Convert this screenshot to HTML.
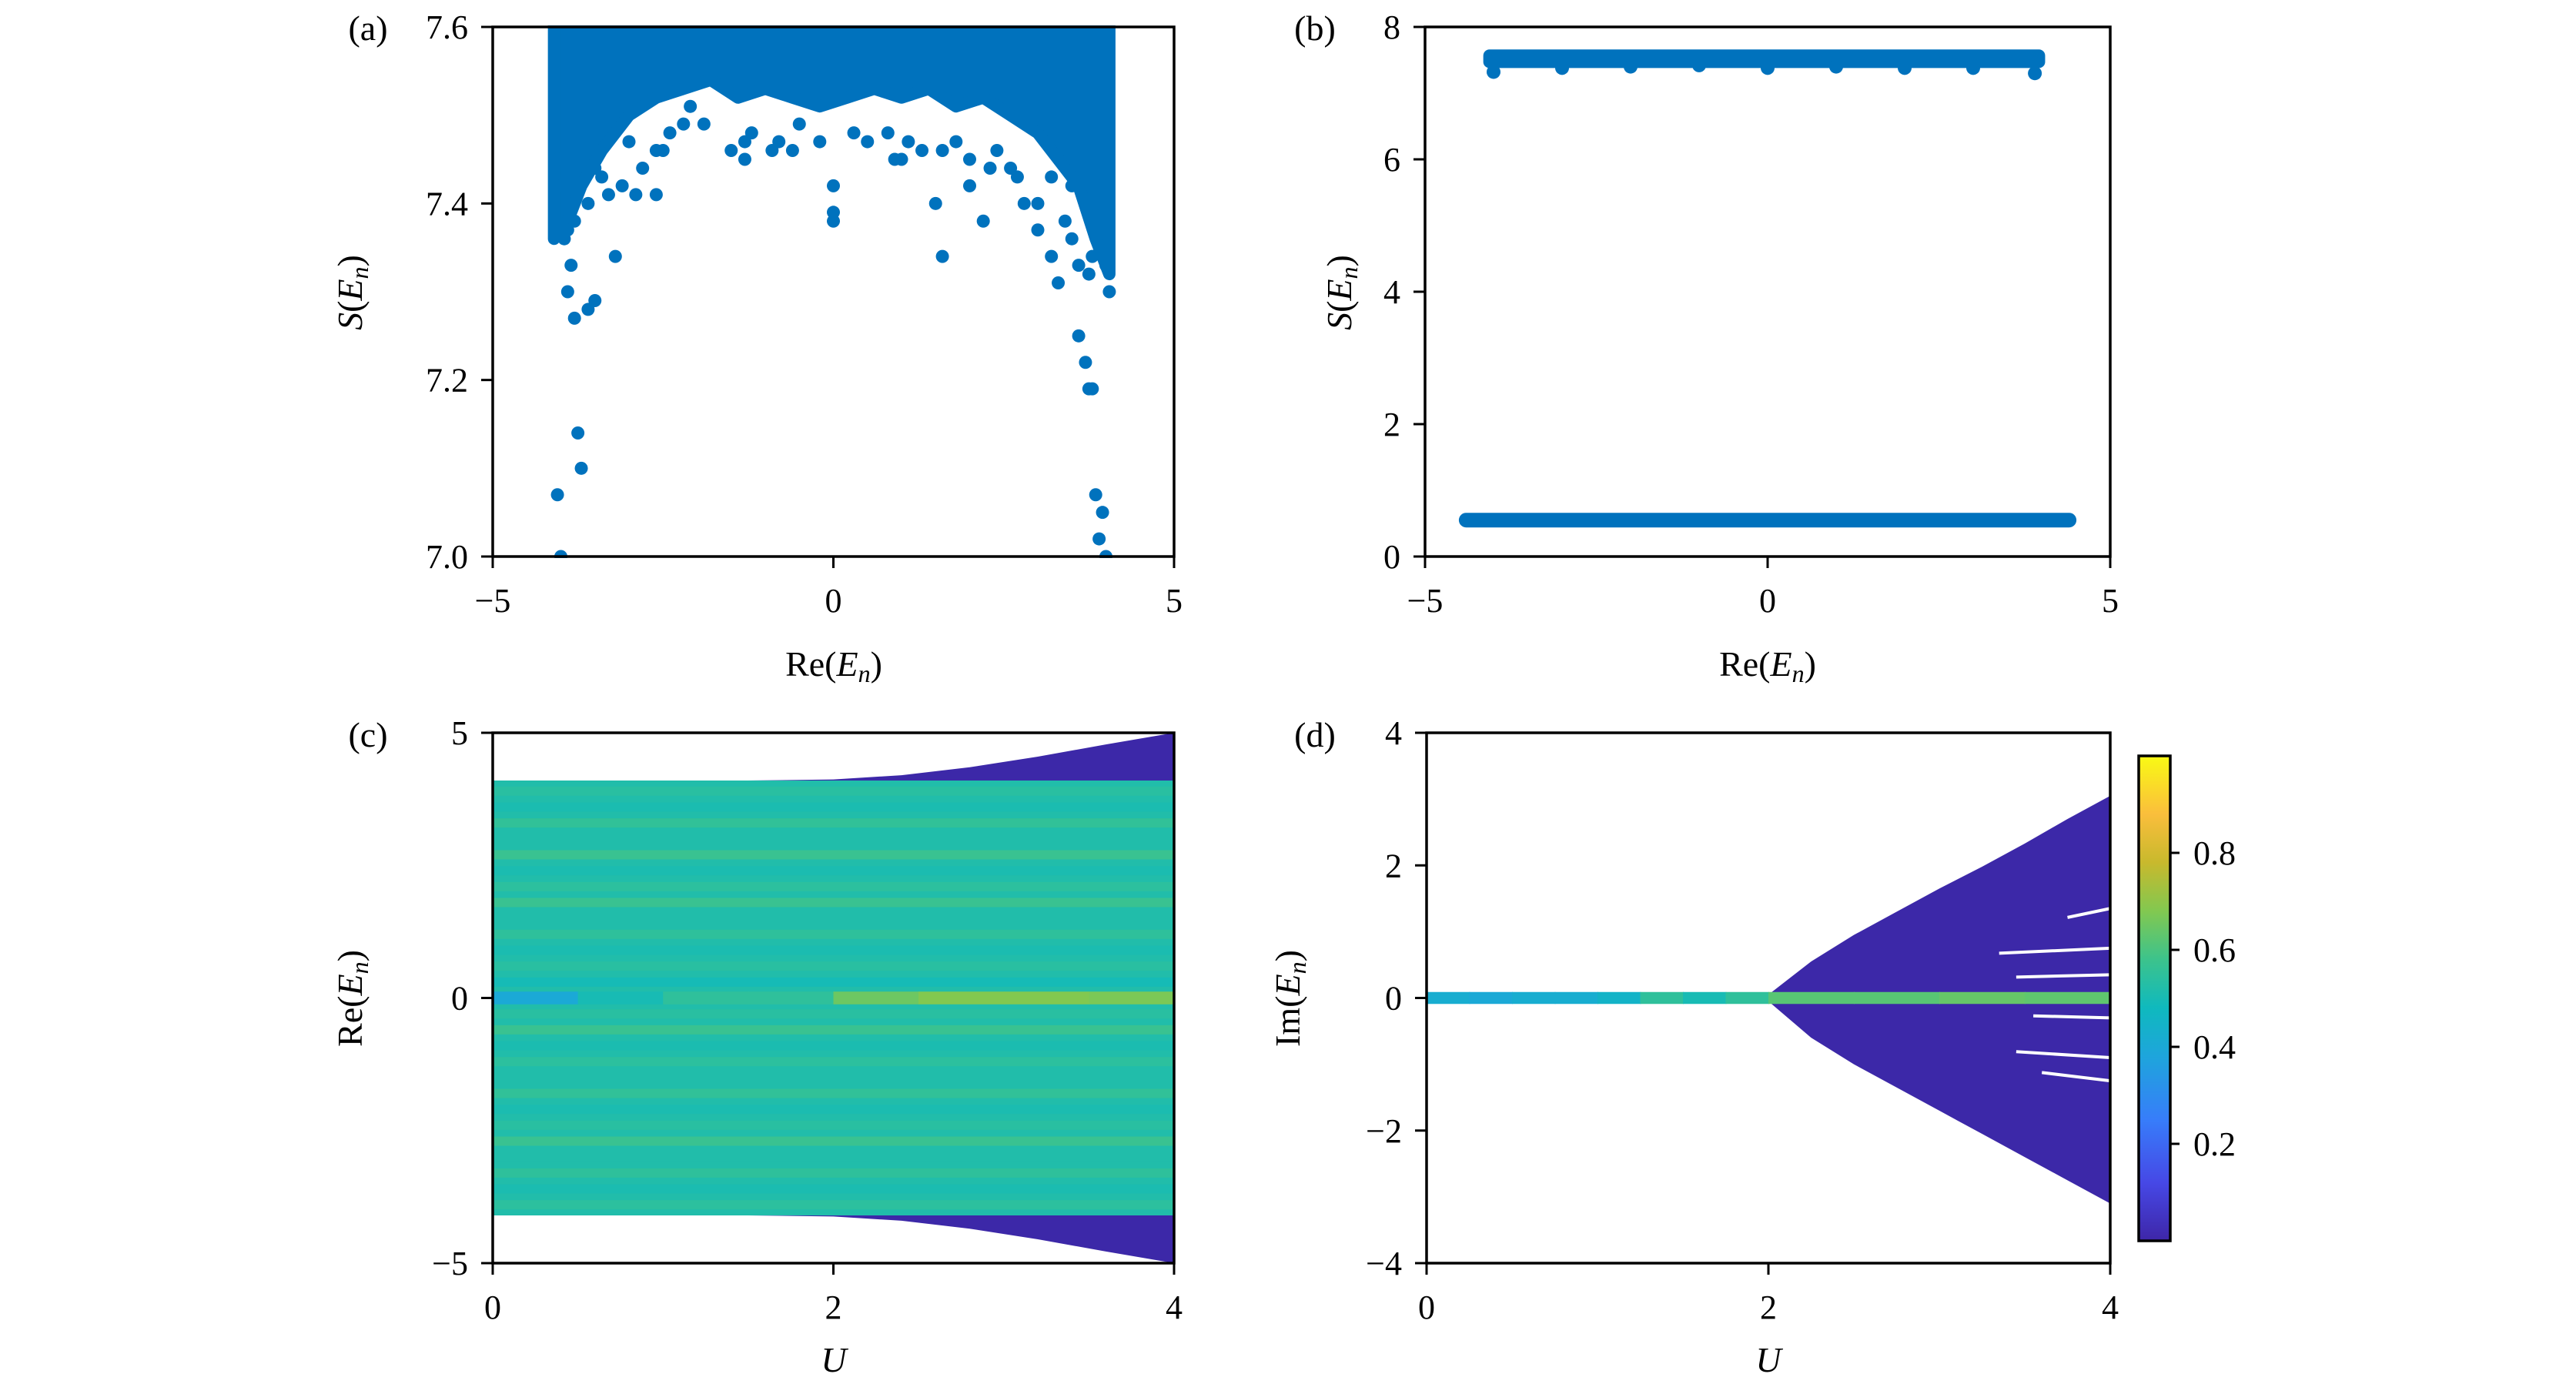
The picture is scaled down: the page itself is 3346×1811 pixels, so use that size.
<!DOCTYPE html>
<html><head><meta charset="utf-8">
<style>
html,body{margin:0;padding:0;background:#fff;}
svg{display:block;}
text{font-family:"Liberation Serif","DejaVu Serif",serif;fill:#000;}
</style></head>
<body>
<svg id="fig" width="3346" height="1811" viewBox="0 0 3346 1811" xmlns="http://www.w3.org/2000/svg"></svg>
<script>
// ---------- Panel (a) data ----------
const aBandX = [-4.1,-3.9,-3.7,-3.4,-3.0,-2.6,-2.2,-1.8,-1.4,-1.0,-0.6,-0.2,0.2,0.6,1.0,1.4,1.8,2.2,2.6,3.0,3.3,3.6,3.85,4.05];
const aBandLow = [7.36,7.38,7.42,7.46,7.50,7.52,7.53,7.54,7.52,7.53,7.52,7.51,7.52,7.53,7.52,7.53,7.51,7.52,7.50,7.48,7.45,7.42,7.36,7.32];
const aOutX = [-4.05,-4.0,-3.95,-3.9,-3.85,-3.8,-3.75,-3.7,-3.6,-3.5,-3.4,-3.2,-3.1,-2.8,-2.5,-2.1,-1.5,-1.2,-0.9,-0.5,0.0,0.0,0.3,0.9,1.3,1.5,1.6,2.0,2.2,2.8,3.0,3.2,3.3,3.5,3.6,3.7,3.75,3.8,3.85,3.9,3.95,4.0,4.05,-4.05,3.75,3.8,
 -3.0,-2.6,-2.6,-2.2,-1.3,-1.3,-0.8,-0.6,-0.2,0.0,0.5,1.0,1.1,1.6,2.0,2.3,2.4,2.7,3.0,-3.5,-3.3,-2.9,-3.6,-3.8,3.4,3.6,3.9,4.0,-4.0,-3.9,3.95,4.0,-2.4,-1.9,0.8,1.8,2.6,3.2,3.5];
const aOutY = [7.07,7.0,7.36,7.30,7.33,7.27,7.14,7.10,7.28,7.29,7.43,7.34,7.42,7.44,7.46,7.51,7.46,7.48,7.46,7.49,7.38,7.42,7.48,7.45,7.46,7.40,7.34,7.42,7.38,7.40,7.37,7.34,7.31,7.36,7.25,7.22,7.19,7.19,7.07,7.02,7.05,7.0,7.30,7.45,7.32,7.34,
 7.47,7.41,7.46,7.49,7.47,7.45,7.47,7.46,7.47,7.39,7.47,7.45,7.47,7.46,7.45,7.44,7.46,7.43,7.40,7.44,7.41,7.41,7.40,7.38,7.38,7.33,7.40,7.33,7.42,7.37,7.42,7.38,7.48,7.49,7.48,7.47,7.44,7.43,7.42];
// ---------- Panel (b) data ----------
const bUpperX = [-4.15,4.05];
const bUpperS = [7.38,7.66];
const bLowerX = [-4.4,4.4];
const bLowerS = [0.55];
const bDipX = [-4.0,-3.0,-2.0,-1.0,0.0,1.0,2.0,3.0,3.9];
const bDipS = [7.32,7.38,7.4,7.42,7.38,7.4,7.38,7.38,7.3];
// ---------- Panel (c) data ----------
const cU = [0,0.5,1.0,1.5,2.0,2.4,2.8,3.2,3.6,4.0];
const cUpper = [4.1,4.1,4.1,4.1,4.12,4.2,4.35,4.55,4.78,5.0];
const cLower = [-4.1,-4.1,-4.1,-4.1,-4.12,-4.2,-4.35,-4.55,-4.78,-5.0];
const cStripeRe = [3.9,3.6,3.3,3.0,2.7,2.4,2.1,1.8,1.5,1.2,0.9,0.6,0.3,-0.3,-0.6,-0.9,-1.2,-1.5,-1.8,-2.1,-2.4,-2.7,-3.0,-3.3,-3.6,-3.9];
const cStripeVal = [0.55,0.5,0.58,0.52,0.6,0.5,0.56,0.6,0.52,0.57,0.5,0.55,0.48,0.55,0.6,0.5,0.56,0.52,0.58,0.5,0.55,0.6,0.52,0.57,0.5,0.56];
const cCenterU = [0,0.5,1.0,1.5,2.0,2.5,3.0,3.5,4.0];
const cCenterVal = [0.45,0.4,0.5,0.55,0.55,0.65,0.68,0.68,0.67];
// ---------- Panel (d) data ----------
const dU = [2.0,2.25,2.5,2.75,3.0,3.25,3.5,3.75,4.0];
const dUpper = [0.05,0.55,0.95,1.3,1.65,1.98,2.33,2.7,3.05];
const dLower = [-0.05,-0.6,-1.0,-1.35,-1.7,-2.05,-2.4,-2.75,-3.1];
const dLineU = [0,0.25,0.5,0.75,1.0,1.25,1.5,1.75,2.0,2.5,3.0,3.5,4.0];
const dLineVal = [0.42,0.42,0.4,0.42,0.42,0.45,0.55,0.5,0.55,0.62,0.62,0.64,0.63];
const dGapU0 = [3.75,3.35,3.45,3.55,3.45,3.6];
const dGapIm = [1.35,0.75,0.35,-0.3,-0.9,-1.25];
// ---------- Colorbar ----------
const cbTicks = [0.2,0.4,0.6,0.8];
const ticksA_x=[-5,0,5], ticksA_y=[7.0,7.2,7.4,7.6];
const ticksB_y=[0,2,4,6,8];
const ticksC_x=[0,2,4], ticksC_y=[-5,0,5];
const ticksD_y=[-4,-2,0,2,4];

const NS="http://www.w3.org/2000/svg";
const svg=document.getElementById('fig');
function mk(tag,attrs,parent){const e=document.createElementNS(NS,tag);for(const k in attrs)e.setAttribute(k,attrs[k]);(parent||svg).appendChild(e);return e;}
function lin(d0,d1,r0,r1){return v=>r0+(v-d0)/(d1-d0)*(r1-r0);}
const stops=[[0,[62,38,168]],[0.12,[70,72,230]],[0.25,[55,125,250]],[0.38,[30,165,220]],[0.48,[15,185,190]],[0.58,[60,195,140]],[0.68,[130,200,80]],[0.78,[200,185,45]],[0.88,[250,190,60]],[1,[249,250,20]]];
function cmap(v){v=Math.max(0,Math.min(1,v));for(let i=1;i<stops.length;i++){if(v<=stops[i][0]){const a=stops[i-1],b=stops[i];const t=(v-a[0])/(b[0]-a[0]);return 'rgb('+a[1].map((c,j)=>Math.round(c+(b[1][j]-c)*t)).join(',')+')';}}return 'rgb(249,250,20)';}
const DOT='#0072bd', PURP='#3c28a8';

function axes(name,L,R,T,B,xt,yt,xs,ys,xfmt,yfmt){
  const g=mk('g',{});
  
  
  mk('rect',{x:L,y:T,width:R-L,height:B-T,fill:'none',stroke:'#000','stroke-width':3.5},g);
  xt.forEach(v=>{const x=xs(v);mk('line',{x1:x,x2:x,y1:B,y2:B+15,stroke:'#000','stroke-width':3},g);
    const t=mk('text',{x:x,y:B+72,'font-size':44,'text-anchor':'middle'},g);t.textContent=xfmt(v);
    });
  yt.forEach(v=>{const y=ys(v);mk('line',{x1:L-15,x2:L,y1:y,y2:y,stroke:'#000','stroke-width':3},g);
    const t=mk('text',{x:L-32,y:y+15,'font-size':44,'text-anchor':'end'},g);t.textContent=yfmt(v);
    });
}
function numfmt(v){return v<0?'\u2212'+Math.abs(v):String(v);}
function label(txt,x,y,name,rot){const t=mk('text',{x:x,y:y,'font-size':46,'text-anchor':'middle'});
  if(rot)t.setAttribute('transform','rotate(-90 '+x+' '+y+')');t.innerHTML=txt;
  }
const EN='<tspan font-style="italic">E</tspan><tspan font-style="italic" font-size="32" dy="8">n</tspan><tspan dy="-8">)</tspan>';

// ===== Panel (a) =====
{const L=640,R=1525,T=35,B=723;const xs=lin(-5,5,L,R),ys=lin(7.0,7.6,B,T);
 const cp=mk('clipPath',{id:'clipA'});mk('rect',{x:L,y:T-2,width:R-L,height:B-T+4},cp);
 const g=mk('g',{'clip-path':'url(#clipA)'});
 let d='M'+xs(aBandX[0])+','+ys(7.62);
 aBandX.forEach((x,i)=>{d+=' L'+xs(x)+','+ys(7.62);});
 for(let i=aBandX.length-1;i>=0;i--)d+=' L'+xs(aBandX[i])+','+ys(aBandLow[i]);
 const band=mk('path',{d:d+'Z',fill:DOT,stroke:DOT,'stroke-width':16,'stroke-linejoin':'round'},g);
 
 aOutX.forEach((x,i)=>{const c=mk('circle',{cx:xs(x),cy:ys(aOutY[i]),r:8.5,fill:DOT},g);
   });
 axes('panel-a',L,R,T,B,ticksA_x,ticksA_y,xs,ys,numfmt,v=>v.toFixed(1));
 label('(a)',478,52,'panel-label-a');
 label('<tspan font-style="italic">S</tspan>('+EN,470,380,'y-axis-title-a',true);
 label('Re('+EN,1083,878,'x-axis-title-a');}

// ===== Panel (b) =====
{const L=1851,R=2741,T=35,B=723;const xs=lin(-5,5,L,R),ys=lin(0,8,B,T);
 const up=mk('rect',{x:xs(bUpperX[0]),y:ys(bUpperS[1]),width:xs(bUpperX[1])-xs(bUpperX[0]),height:ys(bUpperS[0])-ys(bUpperS[1]),rx:8,fill:DOT});
 
 bDipX.forEach((x,i)=>{const c=mk('circle',{cx:xs(x),cy:ys(bDipS[i]),r:9,fill:DOT});
   });
 const lo=mk('line',{x1:xs(bLowerX[0]),x2:xs(bLowerX[1]),y1:ys(bLowerS[0]),y2:ys(bLowerS[0]),stroke:DOT,'stroke-width':19,'stroke-linecap':'round'});
 
 axes('panel-b',L,R,T,B,ticksA_x,ticksB_y,xs,ys,numfmt,v=>String(v));
 label('(b)',1708,52,'panel-label-b');
 label('<tspan font-style="italic">S</tspan>('+EN,1755,380,'y-axis-title-b',true);
 label('Re('+EN,2296,878,'x-axis-title-b');}

// ===== Panel (c) =====
{const L=640,R=1525,T=952,B=1641;const xs=lin(0,4,L,R),ys=lin(-5,5,B,T);
 let d='M'+xs(cU[0])+','+ys(cUpper[0]);cU.forEach((u,i)=>d+=' L'+xs(u)+','+ys(cUpper[i]));
 for(let i=cU.length-1;i>=0;i--)d+=' L'+xs(cU[i])+','+ys(cLower[i]);
 const p=mk('path',{d:d+'Z',fill:PURP});
 const r=mk('rect',{x:xs(0),y:ys(4.1),width:xs(4)-xs(0),height:ys(-4.1)-ys(4.1),fill:cmap(0.52)});
 
 cStripeRe.forEach((re,i)=>{const s=mk('rect',{x:xs(0),y:ys(re)-6,width:xs(4)-xs(0),height:12,fill:cmap(cStripeVal[i]),opacity:0.6});
   });
 for(let i=0;i<cCenterU.length-1;i++){const s=mk('rect',{x:xs(cCenterU[i]),y:ys(0.12),width:xs(cCenterU[i+1])-xs(cCenterU[i])+1,height:ys(-0.12)-ys(0.12),fill:cmap(cCenterVal[i+1])});
   }
 axes('panel-c',L,R,T,B,ticksC_x,ticksC_y,xs,ys,numfmt,numfmt);
 label('(c)',478,970,'panel-label-c');
 label('Re('+EN,470,1297,'y-axis-title-c',true);
 label('<tspan font-style="italic">U</tspan>',1083,1782,'x-axis-title-c');}

// ===== Panel (d) =====
{const L=1853,R=2741,T=952,B=1641;const xs=lin(0,4,L,R),ys=lin(-4,4,B,T);
 let d='M'+xs(dU[0])+','+ys(dUpper[0]);dU.forEach((u,i)=>d+=' L'+xs(u)+','+ys(dUpper[i]));
 for(let i=dU.length-1;i>=0;i--)d+=' L'+xs(dU[i])+','+ys(dLower[i]);
 const p=mk('path',{d:d+'Z',fill:PURP});
 dGapU0.forEach((u,i)=>{const l=mk('line',{x1:xs(u),x2:xs(4),y1:ys(dGapIm[i]*0.9),y2:ys(dGapIm[i]),stroke:'#fff','stroke-width':4});
   });
 for(let i=0;i<dLineU.length-1;i++){const s=mk('rect',{x:xs(dLineU[i]),y:ys(0.09),width:xs(dLineU[i+1])-xs(dLineU[i])+1,height:ys(-0.09)-ys(0.09),fill:cmap(dLineVal[i+1])});
   }
 axes('panel-d',L,R,T,B,ticksC_x,ticksD_y,xs,ys,numfmt,numfmt);
 label('(d)',1708,970,'panel-label-d');
 label('Im('+EN,1688,1297,'y-axis-title-d',true);
 label('<tspan font-style="italic">U</tspan>',2297,1782,'x-axis-title-d');}

// ===== Colorbar =====
{const L=2778,R=2819,T=982,B=1612;const ys=lin(0,1,B,T);
 const defs=mk('defs',{});const lg=mk('linearGradient',{id:'parula',x1:0,y1:1,x2:0,y2:0},defs);
 stops.forEach(s=>mk('stop',{offset:s[0],'stop-color':cmap(s[0])},lg));
 const r=mk('rect',{x:L,y:T,width:R-L,height:B-T,fill:'url(#parula)',stroke:'#000','stroke-width':3.5});
 
 cbTicks.forEach(v=>{const y=ys(v);mk('line',{x1:R,x2:R+12,y1:y,y2:y,stroke:'#000','stroke-width':3});
   const t=mk('text',{x:R+30,y:y+15,'font-size':44});t.textContent=v.toFixed(1);
   });}
</script>
</body></html>
